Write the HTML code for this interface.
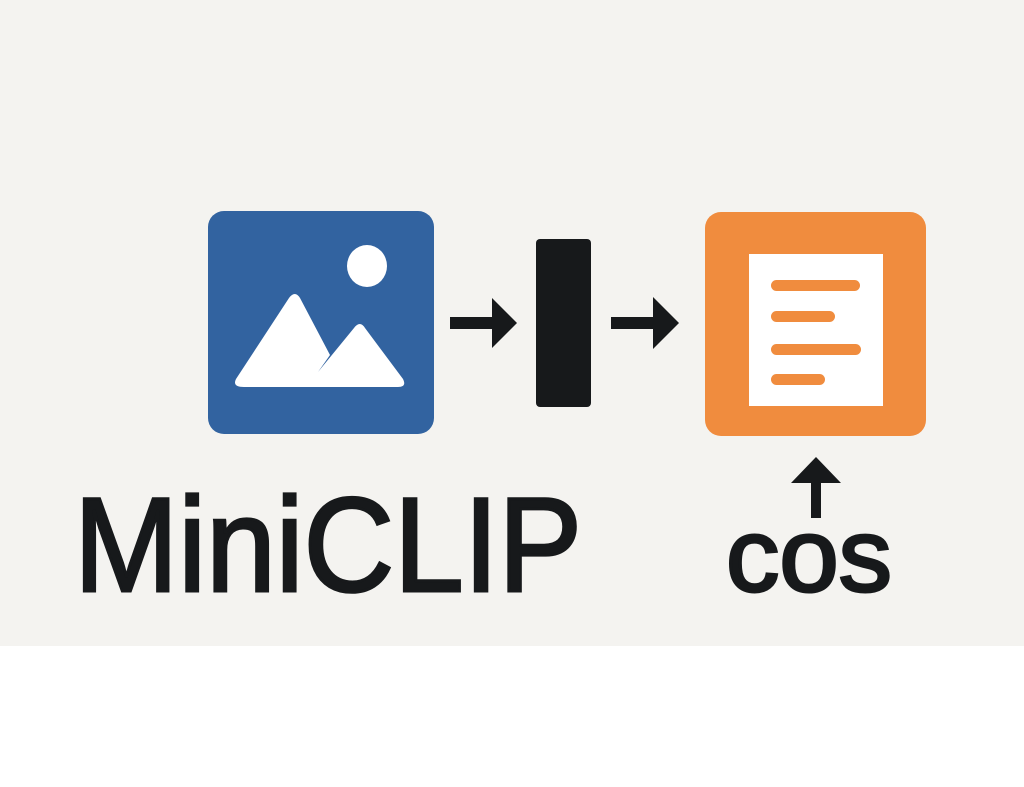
<!DOCTYPE html>
<html><head><meta charset="utf-8"><style>
html,body{margin:0;padding:0;background:#fff}
</style></head><body>
<svg width="1024" height="782" viewBox="0 0 1024 782" xmlns="http://www.w3.org/2000/svg">
<rect x="0" y="0" width="1024" height="646" fill="#F4F3F0"/>
<rect x="0" y="646" width="1024" height="136" fill="#FFFFFF"/>
<!-- blue image icon -->
<rect x="208" y="211" width="226" height="223" rx="16" fill="#3263A0"/>
<ellipse cx="367" cy="266" rx="20" ry="21" fill="#fff"/>
<path d="M236,379 L289,298 Q295,290 300,298 L330,355 L318,372 L354,328 Q360,320 365,328 L403,379 Q407,387 398,387 L244,387 Q232,387 236,379 Z" fill="#fff"/>
<!-- arrow 1 -->
<rect x="450" y="317" width="44" height="12" fill="#17191B"/>
<polygon points="492,298 517,323 492,348" fill="#17191B"/>
<!-- black bar -->
<rect x="536" y="239" width="55" height="168" rx="4" fill="#17191B"/>
<!-- arrow 2 -->
<rect x="611" y="317" width="44" height="12" fill="#17191B"/>
<polygon points="653,297 679,323 653,349" fill="#17191B"/>
<!-- orange doc -->
<rect x="705" y="212" width="221" height="224" rx="16" fill="#F08C3E"/>
<rect x="749" y="254" width="134" height="152" fill="#fff"/>
<rect x="771" y="280" width="89" height="11" rx="5.5" fill="#F08C3E"/>
<rect x="771" y="311" width="64" height="11" rx="5.5" fill="#F08C3E"/>
<rect x="771" y="344" width="90" height="11" rx="5.5" fill="#F08C3E"/>
<rect x="771" y="374" width="54" height="11" rx="5.5" fill="#F08C3E"/>
<!-- up arrow -->
<polygon points="816,457 841,483 791,483" fill="#17191B"/>
<rect x="811" y="481" width="10" height="37" fill="#17191B"/>
<!-- text -->
<text x="74" y="591" font-family="Liberation Sans, sans-serif" font-size="134" fill="#17191B" stroke="#17191B" stroke-width="3" textLength="508" lengthAdjust="spacingAndGlyphs">MiniCLIP</text>
<text x="726" y="591" font-family="Liberation Sans, sans-serif" font-size="104" fill="#17191B" stroke="#17191B" stroke-width="3" textLength="166" lengthAdjust="spacingAndGlyphs">cos</text>
</svg>
</body></html>
